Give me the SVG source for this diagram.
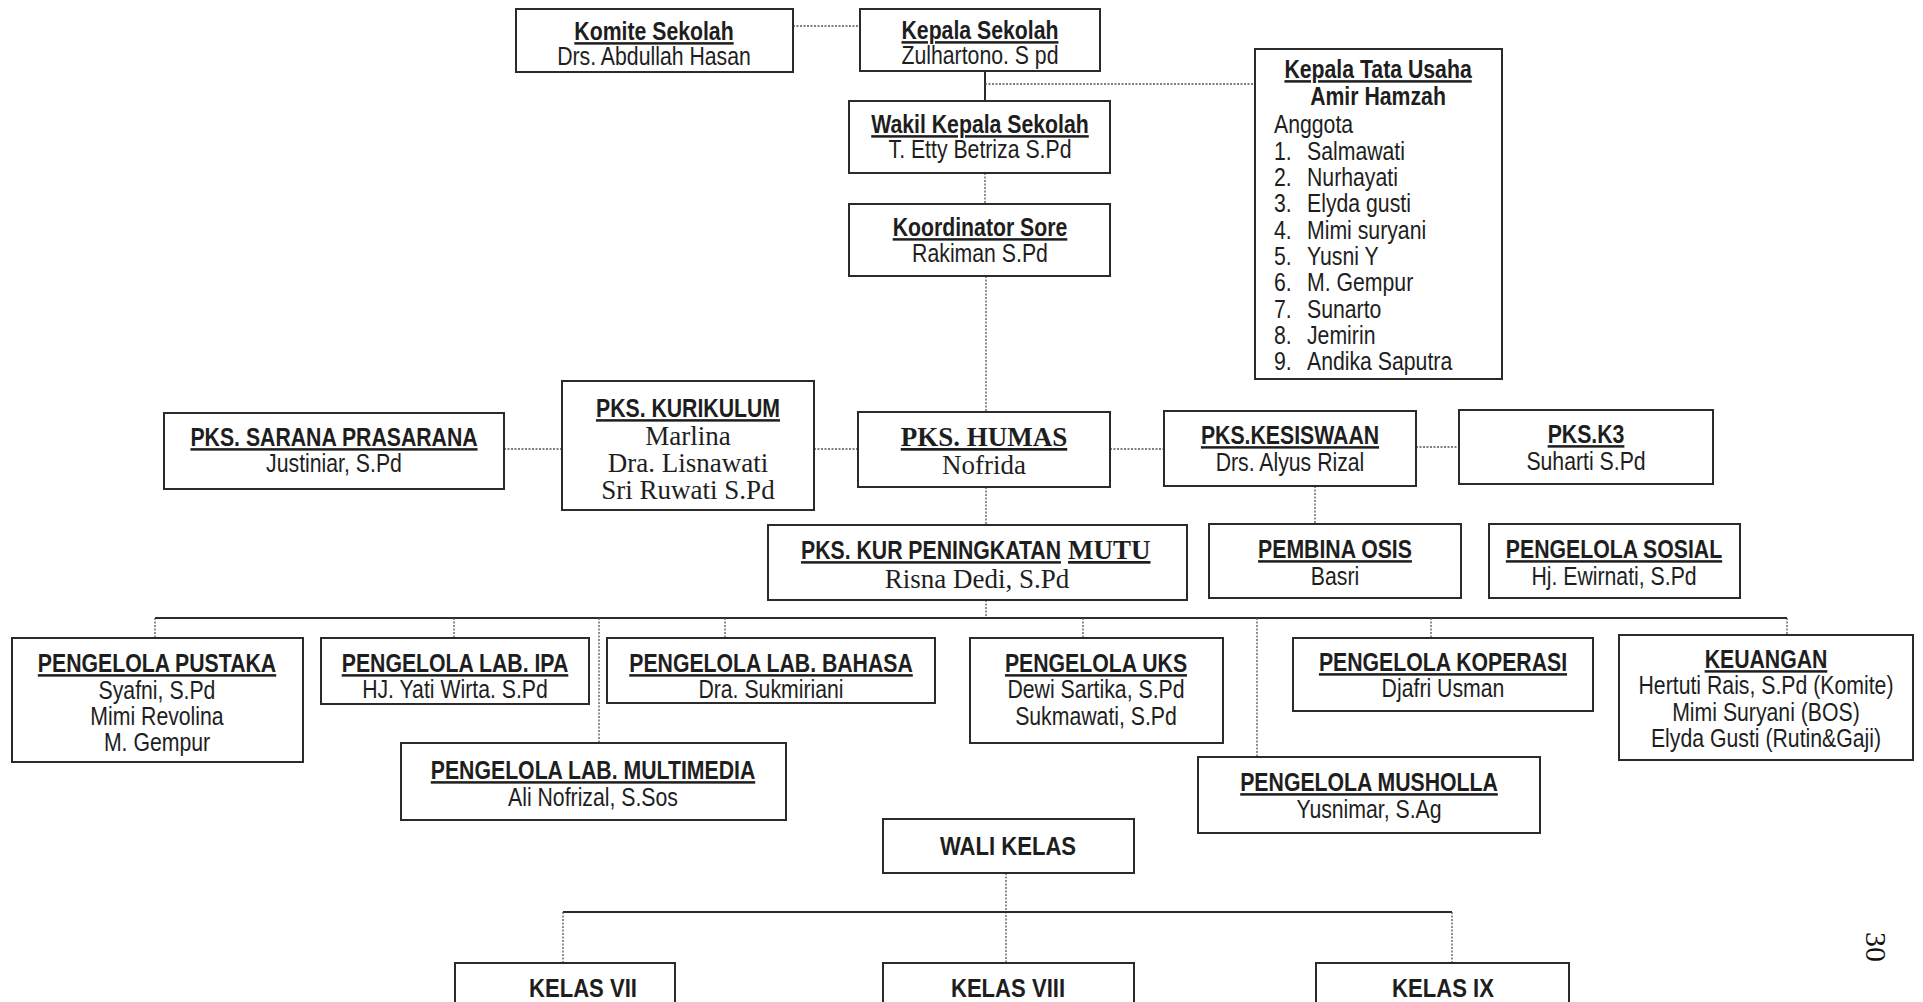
<svg xmlns="http://www.w3.org/2000/svg" width="1923" height="1002" viewBox="0 0 1923 1002">
<style>
.bg{fill:#fff}
.box{fill:#fff;stroke:#2b2b2b;stroke-width:2}
.t{font-family:"Liberation Sans",Arial,sans-serif;font-size:25px;fill:#1e1e1e;text-anchor:middle;transform-box:fill-box;transform-origin:center;transform:scaleX(0.85)}
.h{font-weight:bold;text-decoration:underline}
.bo{font-weight:bold}
.s{font-family:"Liberation Serif","Times New Roman",serif;font-size:27px;transform:none}
.l{text-anchor:start;transform-origin:left center}
.k{font-size:26px}
.dot{stroke:#555;stroke-width:1.3;stroke-dasharray:2 1.5;fill:none}
.sol{stroke:#2b2b2b;stroke-width:2;fill:none}
</style>
<rect class="bg" x="0" y="0" width="1923" height="1002"/>
<g id="connectors">
<line class="dot" x1="793" y1="26" x2="860" y2="26"/>
<line class="sol" x1="985" y1="64" x2="985" y2="101"/>
<line class="dot" x1="985" y1="84" x2="1255" y2="84"/>
<line class="dot" x1="985" y1="173" x2="985" y2="204"/>
<line class="dot" x1="986" y1="276" x2="986" y2="412"/>
<line class="dot" x1="504" y1="449" x2="562" y2="449"/>
<line class="dot" x1="814" y1="449" x2="858" y2="449"/>
<line class="dot" x1="1110" y1="449" x2="1164" y2="449"/>
<line class="dot" x1="1416" y1="447" x2="1459" y2="447"/>
<line class="dot" x1="986" y1="487" x2="986" y2="525"/>
<line class="dot" x1="1315" y1="486" x2="1315" y2="524"/>
<line class="dot" x1="986" y1="600" x2="986" y2="618"/>
<line class="sol" x1="155" y1="618" x2="1787" y2="618"/>
<line class="dot" x1="155" y1="618" x2="155" y2="638"/>
<line class="dot" x1="454" y1="618" x2="454" y2="638"/>
<line class="dot" x1="599" y1="618" x2="599" y2="743"/>
<line class="dot" x1="725" y1="618" x2="725" y2="638"/>
<line class="dot" x1="1083" y1="618" x2="1083" y2="638"/>
<line class="dot" x1="1257" y1="618" x2="1257" y2="757"/>
<line class="dot" x1="1431" y1="618" x2="1431" y2="638"/>
<line class="dot" x1="1787" y1="618" x2="1787" y2="635"/>
<line class="dot" x1="1006" y1="873" x2="1006" y2="963"/>
<line class="sol" x1="563" y1="912" x2="1452" y2="912"/>
<line class="dot" x1="563" y1="912" x2="563" y2="963"/>
<line class="dot" x1="1452" y1="912" x2="1452" y2="963"/>
</g>
<g id="komite"><rect class="box" x="516" y="9" width="277" height="63"/>
<text class="t h" x="654" y="40">Komite Sekolah</text><text class="t" x="654" y="65">Drs. Abdullah Hasan</text></g>
<g id="kepala"><rect class="box" x="860" y="9" width="240" height="62"/>
<text class="t h" x="980" y="39">Kepala Sekolah</text><text class="t" x="980" y="64">Zulhartono. S pd</text></g>
<g id="wakil"><rect class="box" x="849" y="101" width="261" height="72"/>
<text class="t h" x="980" y="133">Wakil Kepala Sekolah</text><text class="t" x="980" y="158">T. Etty Betriza S.Pd</text></g>
<g id="koordinator"><rect class="box" x="849" y="204" width="261" height="72"/>
<text class="t h" x="980" y="236">Koordinator Sore</text><text class="t" x="980" y="262">Rakiman S.Pd</text></g>
<g id="tatausaha"><rect class="box" x="1255" y="49" width="247" height="330"/>
<text class="t h" x="1378" y="78">Kepala Tata Usaha</text>
<text class="t bo" x="1378" y="105">Amir Hamzah</text>
<text class="t l" x="1274" y="133">Anggota</text>
<text class="t l" x="1274" y="160">1.</text><text class="t l" x="1307" y="160">Salmawati</text>
<text class="t l" x="1274" y="186">2.</text><text class="t l" x="1307" y="186">Nurhayati</text>
<text class="t l" x="1274" y="212">3.</text><text class="t l" x="1307" y="212">Elyda gusti</text>
<text class="t l" x="1274" y="239">4.</text><text class="t l" x="1307" y="239">Mimi suryani</text>
<text class="t l" x="1274" y="265">5.</text><text class="t l" x="1307" y="265">Yusni Y</text>
<text class="t l" x="1274" y="291">6.</text><text class="t l" x="1307" y="291">M. Gempur</text>
<text class="t l" x="1274" y="318">7.</text><text class="t l" x="1307" y="318">Sunarto</text>
<text class="t l" x="1274" y="344">8.</text><text class="t l" x="1307" y="344">Jemirin</text>
<text class="t l" x="1274" y="370">9.</text><text class="t l" x="1307" y="370">Andika Saputra</text></g>
<g id="sarana"><rect class="box" x="164" y="413" width="340" height="76"/>
<text class="t h" x="334" y="446">PKS. SARANA PRASARANA</text><text class="t" x="334" y="472">Justiniar, S.Pd</text></g>
<g id="kurikulum"><rect class="box" x="562" y="381" width="252" height="129"/>
<text class="t h" x="688" y="417">PKS. KURIKULUM</text>
<text class="t s" x="688" y="445">Marlina</text><text class="t s" x="688" y="472">Dra. Lisnawati</text><text class="t s" x="688" y="499">Sri Ruwati S.Pd</text></g>
<g id="humas"><rect class="box" x="858" y="412" width="252" height="75"/>
<text class="t s h" x="984" y="446">PKS. HUMAS</text><text class="t s" x="984" y="474">Nofrida</text></g>
<g id="kesiswaan"><rect class="box" x="1164" y="411" width="252" height="75"/>
<text class="t h" x="1290" y="444">PKS.KESISWAAN</text><text class="t" x="1290" y="471">Drs. Alyus Rizal</text></g>
<g id="k3"><rect class="box" x="1459" y="410" width="254" height="74"/>
<text class="t h" x="1586" y="443">PKS.K3</text><text class="t" x="1586" y="470">Suharti S.Pd</text></g>
<g id="kurmutu"><rect class="box" x="768" y="525" width="419" height="75"/>
<text class="t h l" x="801" y="559">PKS. KUR PENINGKATAN</text><text class="t s h l" x="1068" y="559">MUTU</text><text class="t s" x="977" y="588">Risna Dedi, S.Pd</text></g>
<g id="osis"><rect class="box" x="1209" y="524" width="252" height="74"/>
<text class="t h" x="1335" y="558">PEMBINA OSIS</text><text class="t" x="1335" y="585">Basri</text></g>
<g id="sosial"><rect class="box" x="1489" y="524" width="251" height="74"/>
<text class="t h" x="1614" y="558">PENGELOLA SOSIAL</text><text class="t" x="1614" y="585">Hj. Ewirnati, S.Pd</text></g>
<g id="pustaka"><rect class="box" x="12" y="638" width="291" height="124"/>
<text class="t h" x="157" y="672">PENGELOLA PUSTAKA</text><text class="t" x="157" y="699">Syafni, S.Pd</text><text class="t" x="157" y="725">Mimi Revolina</text><text class="t" x="157" y="751">M. Gempur</text></g>
<g id="labipa"><rect class="box" x="321" y="638" width="268" height="66"/>
<text class="t h" x="455" y="672">PENGELOLA LAB. IPA</text><text class="t" x="455" y="698">HJ. Yati Wirta. S.Pd</text></g>
<g id="labbahasa"><rect class="box" x="607" y="638" width="328" height="65"/>
<text class="t h" x="771" y="672">PENGELOLA LAB. BAHASA</text><text class="t" x="771" y="698">Dra. Sukmiriani</text></g>
<g id="uks"><rect class="box" x="970" y="638" width="253" height="105"/>
<text class="t h" x="1096" y="672">PENGELOLA UKS</text><text class="t" x="1096" y="698">Dewi Sartika, S.Pd</text><text class="t" x="1096" y="725">Sukmawati, S.Pd</text></g>
<g id="koperasi"><rect class="box" x="1293" y="638" width="300" height="73"/>
<text class="t h" x="1443" y="671">PENGELOLA KOPERASI</text><text class="t" x="1443" y="697">Djafri Usman</text></g>
<g id="keuangan"><rect class="box" x="1619" y="635" width="294" height="125"/>
<text class="t h" x="1766" y="668">KEUANGAN</text><text class="t" x="1766" y="694">Hertuti Rais, S.Pd (Komite)</text><text class="t" x="1766" y="721">Mimi Suryani (BOS)</text><text class="t" x="1766" y="747">Elyda Gusti (Rutin&amp;Gaji)</text></g>
<g id="multimedia"><rect class="box" x="401" y="743" width="385" height="77"/>
<text class="t h" x="593" y="779">PENGELOLA LAB. MULTIMEDIA</text><text class="t" x="593" y="806">Ali Nofrizal, S.Sos</text></g>
<g id="musholla"><rect class="box" x="1198" y="757" width="342" height="76"/>
<text class="t h" x="1369" y="791">PENGELOLA MUSHOLLA</text><text class="t" x="1369" y="818">Yusnimar, S.Ag</text></g>
<g id="walikelas"><rect class="box" x="883" y="819" width="251" height="54"/>
<text class="t bo k" x="1008" y="855">WALI KELAS</text></g>
<g id="kelas7"><rect class="box" x="455" y="963" width="220" height="50"/>
<text class="t bo k" x="583" y="997">KELAS VII</text></g>
<g id="kelas8"><rect class="box" x="883" y="963" width="251" height="50"/>
<text class="t bo k" x="1008" y="997">KELAS VIII</text></g>
<g id="kelas9"><rect class="box" x="1316" y="963" width="253" height="50"/>
<text class="t bo k" x="1443" y="997">KELAS IX</text></g>
<text transform="translate(1866,947) rotate(90)" style="font-family:'Liberation Serif',serif;font-size:30px;fill:#111;text-anchor:middle">30</text>
</svg>
